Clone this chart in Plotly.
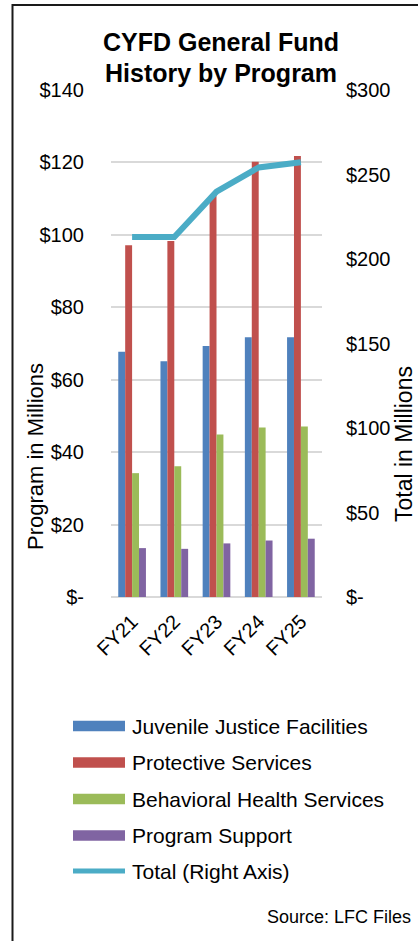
import plotly.graph_objects as go

# ---------------- data ----------------
categories = ["FY21", "FY22", "FY23", "FY24", "FY25"]
juvenile_justice = [67.7, 65.1, 69.3, 71.7, 71.7]
protective_services = [97.1, 98.3, 111.0, 120.2, 121.8]
behavioral_health = [34.2, 36.1, 44.9, 46.8, 47.1]
program_support = [13.5, 13.3, 14.8, 15.6, 16.1]
total_right_axis = [213.0, 213.0, 239.8, 254.2, 257.2]

bar_names = ["Juvenile Justice Facilities", "Protective Services",
             "Behavioral Health Services", "Program Support"]
line_name = "Total (Right Axis)"

left_tickvals = [0, 20, 40, 60, 80, 100, 120, 140]
left_ticktext = ["$-", "$20", "$40", "$60", "$80", "$100", "$120", "$140"]
right_tickvals = [0, 50, 100, 150, 200, 250, 300]
right_ticktext = ["$-", "$50", "$100", "$150", "$200", "$250", "$300"]

# ---------------- styling ----------------
W, H = 418, 941
FONT = "Liberation Sans, Arial, sans-serif"
bar_colors = ["#4F81BD", "#C0504D", "#9BBB59", "#8064A2"]
line_color = "#4BACC6"
grid_color = "#D9D9D9"


def px(x):
    return x / W


def py(y):
    return 1 - y / H


fig = go.Figure()
for name, vals, col in zip(bar_names,
                           [juvenile_justice, protective_services, behavioral_health, program_support],
                           bar_colors):
    fig.add_trace(go.Bar(x=categories, y=vals, name=name, marker_color=col,
                         marker_line_width=0, yaxis="y", showlegend=False))

fig.add_trace(go.Scatter(x=categories, y=total_right_axis, name=line_name, mode="lines",
                         line=dict(color=line_color, width=6), yaxis="y2", showlegend=False))

fig.update_layout(
    width=W, height=H, autosize=False,
    margin=dict(l=0, r=0, t=0, b=0, pad=0, autoexpand=False),
    paper_bgcolor="white", plot_bgcolor="white",
    font=dict(family=FONT, color="#000000", size=20),
    barmode="group", bargap=0.344, bargroupgap=0,
    showlegend=False,
    xaxis=dict(domain=[px(111), px(322)], anchor="y", tickangle=-45, automargin=False,
               tickfont=dict(size=20), showgrid=False, showline=False, ticks="",
               ticklabelstandoff=8),
    yaxis=dict(domain=[py(597), py(90)], range=[0, 140], tickvals=left_tickvals,
               ticktext=left_ticktext, showgrid=True, gridcolor=grid_color, gridwidth=1.5,
               zeroline=True, zerolinecolor=grid_color, zerolinewidth=2, automargin=False,
               showline=False, ticks="", tickfont=dict(size=20), ticklabelstandoff=26),
    yaxis2=dict(domain=[py(597), py(90)], range=[0, 300], overlaying="y", side="right",
                anchor="x", tickvals=right_tickvals, ticktext=right_ticktext, automargin=False,
                showgrid=False, zeroline=False, showline=False, ticks="",
                tickfont=dict(size=20), ticklabelstandoff=23),
)

annotations = [
    dict(text="<b>CYFD General Fund</b>", x=px(221), y=py(42), xref="paper", yref="paper",
         xanchor="center", yanchor="middle", showarrow=False, font=dict(size=25)),
    dict(text="<b>History by Program</b>", x=px(221), y=py(73), xref="paper", yref="paper",
         xanchor="center", yanchor="middle", showarrow=False, font=dict(size=25)),
    dict(text="Program in Millions", x=px(35), y=py(457), xref="paper", yref="paper",
         xanchor="center", yanchor="middle", showarrow=False, textangle=-90, font=dict(size=22)),
    dict(text="Total in Millions", x=px(404), y=py(444), xref="paper", yref="paper",
         xanchor="center", yanchor="middle", showarrow=False, textangle=-90, font=dict(size=23)),
    dict(text="Source: LFC Files", x=px(413), y=py(917), xref="paper", yref="paper",
         xanchor="right", yanchor="middle", showarrow=False, font=dict(size=18)),
]

shapes = [
    # frame (left and top edges)
    dict(type="line", xref="paper", yref="paper", x0=px(12.5), x1=px(12.5), y0=py(4), y1=py(941),
         line=dict(color="#1a1a1a", width=2)),
    dict(type="line", xref="paper", yref="paper", x0=px(12), x1=px(418), y0=py(5), y1=py(5),
         line=dict(color="#1a1a1a", width=2)),
]

# manual legend
legend_rows = [726, 762.5, 799, 835.5, 871]
for name, col, yc in zip(bar_names, bar_colors, legend_rows[:4]):
    shapes.append(dict(type="rect", xref="paper", yref="paper", x0=px(73), x1=px(125),
                       y0=py(yc + 5.3), y1=py(yc - 5.3), fillcolor=col, line=dict(width=0)))
    annotations.append(dict(text=name, x=px(130), y=py(yc), xref="paper", yref="paper",
                            xanchor="left", yanchor="middle", showarrow=False,
                            font=dict(size=21)))
shapes.append(dict(type="line", xref="paper", yref="paper", x0=px(73), x1=px(125),
                   y0=py(legend_rows[4]), y1=py(legend_rows[4]),
                   line=dict(color=line_color, width=5)))
annotations.append(dict(text=line_name, x=px(130), y=py(legend_rows[4]), xref="paper", yref="paper",
                        xanchor="left", yanchor="middle", showarrow=False, font=dict(size=21)))

fig.update_layout(annotations=annotations, shapes=shapes)
fig.write_html("out.html", config={"displayModeBar": False},
               post_script="document.body.style.margin='0';document.body.style.overflow='hidden';")
